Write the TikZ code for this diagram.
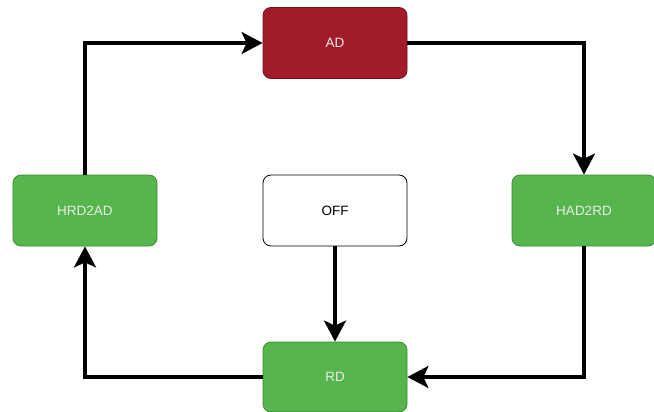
\documentclass[tikz,border=0pt]{standalone}
\usepackage{fontspec}
\setmainfont{Liberation Sans}
\usetikzlibrary{arrows.meta}
\definecolor{adred}{RGB}{161,27,42}
\definecolor{adredline}{RGB}{120,14,26}
\definecolor{rdgreen}{RGB}{86,181,76}
\definecolor{rdgreenline}{RGB}{60,140,52}
\tikzset{
  state/.style={rectangle,rounded corners=8pt,minimum width=144pt,minimum height=71pt,
    inner sep=0pt,font=\fontsize{13.5}{16}\selectfont,line width=0.8pt},
  greenstate/.style={state,fill=rdgreen,draw=rdgreenline,text=white!92!black},
  flow/.style={line width=3.5pt,-{Stealth[length=21pt,width=22pt,inset=5pt]}}
}
\begin{document}
\begin{tikzpicture}[x=1pt,y=-1pt]
\useasboundingbox (0,0) rectangle (654,412);
\node[state,fill=adred,draw=adredline,text=white!92!black] (ad) at (335,43) {AD};
\node[greenstate] (hrd2ad) at (85,210.5) {HRD2AD};
\node[state,fill=white,draw=black] (off) at (335,210.5) {OFF};
\node[greenstate] (had2rd) at (584,210.5) {HAD2RD};
\node[greenstate,minimum height=70pt] (rd) at (335,377) {RD};
\draw[flow] (hrd2ad.north) |- (ad.west);
\draw[flow] (ad.east) -| (had2rd.north);
\draw[flow] (had2rd.south) |- (rd.east);
\draw[flow] (rd.west) -| (hrd2ad.south);
\draw[flow] (off.south) -- (rd.north);
\end{tikzpicture}
\end{document}
